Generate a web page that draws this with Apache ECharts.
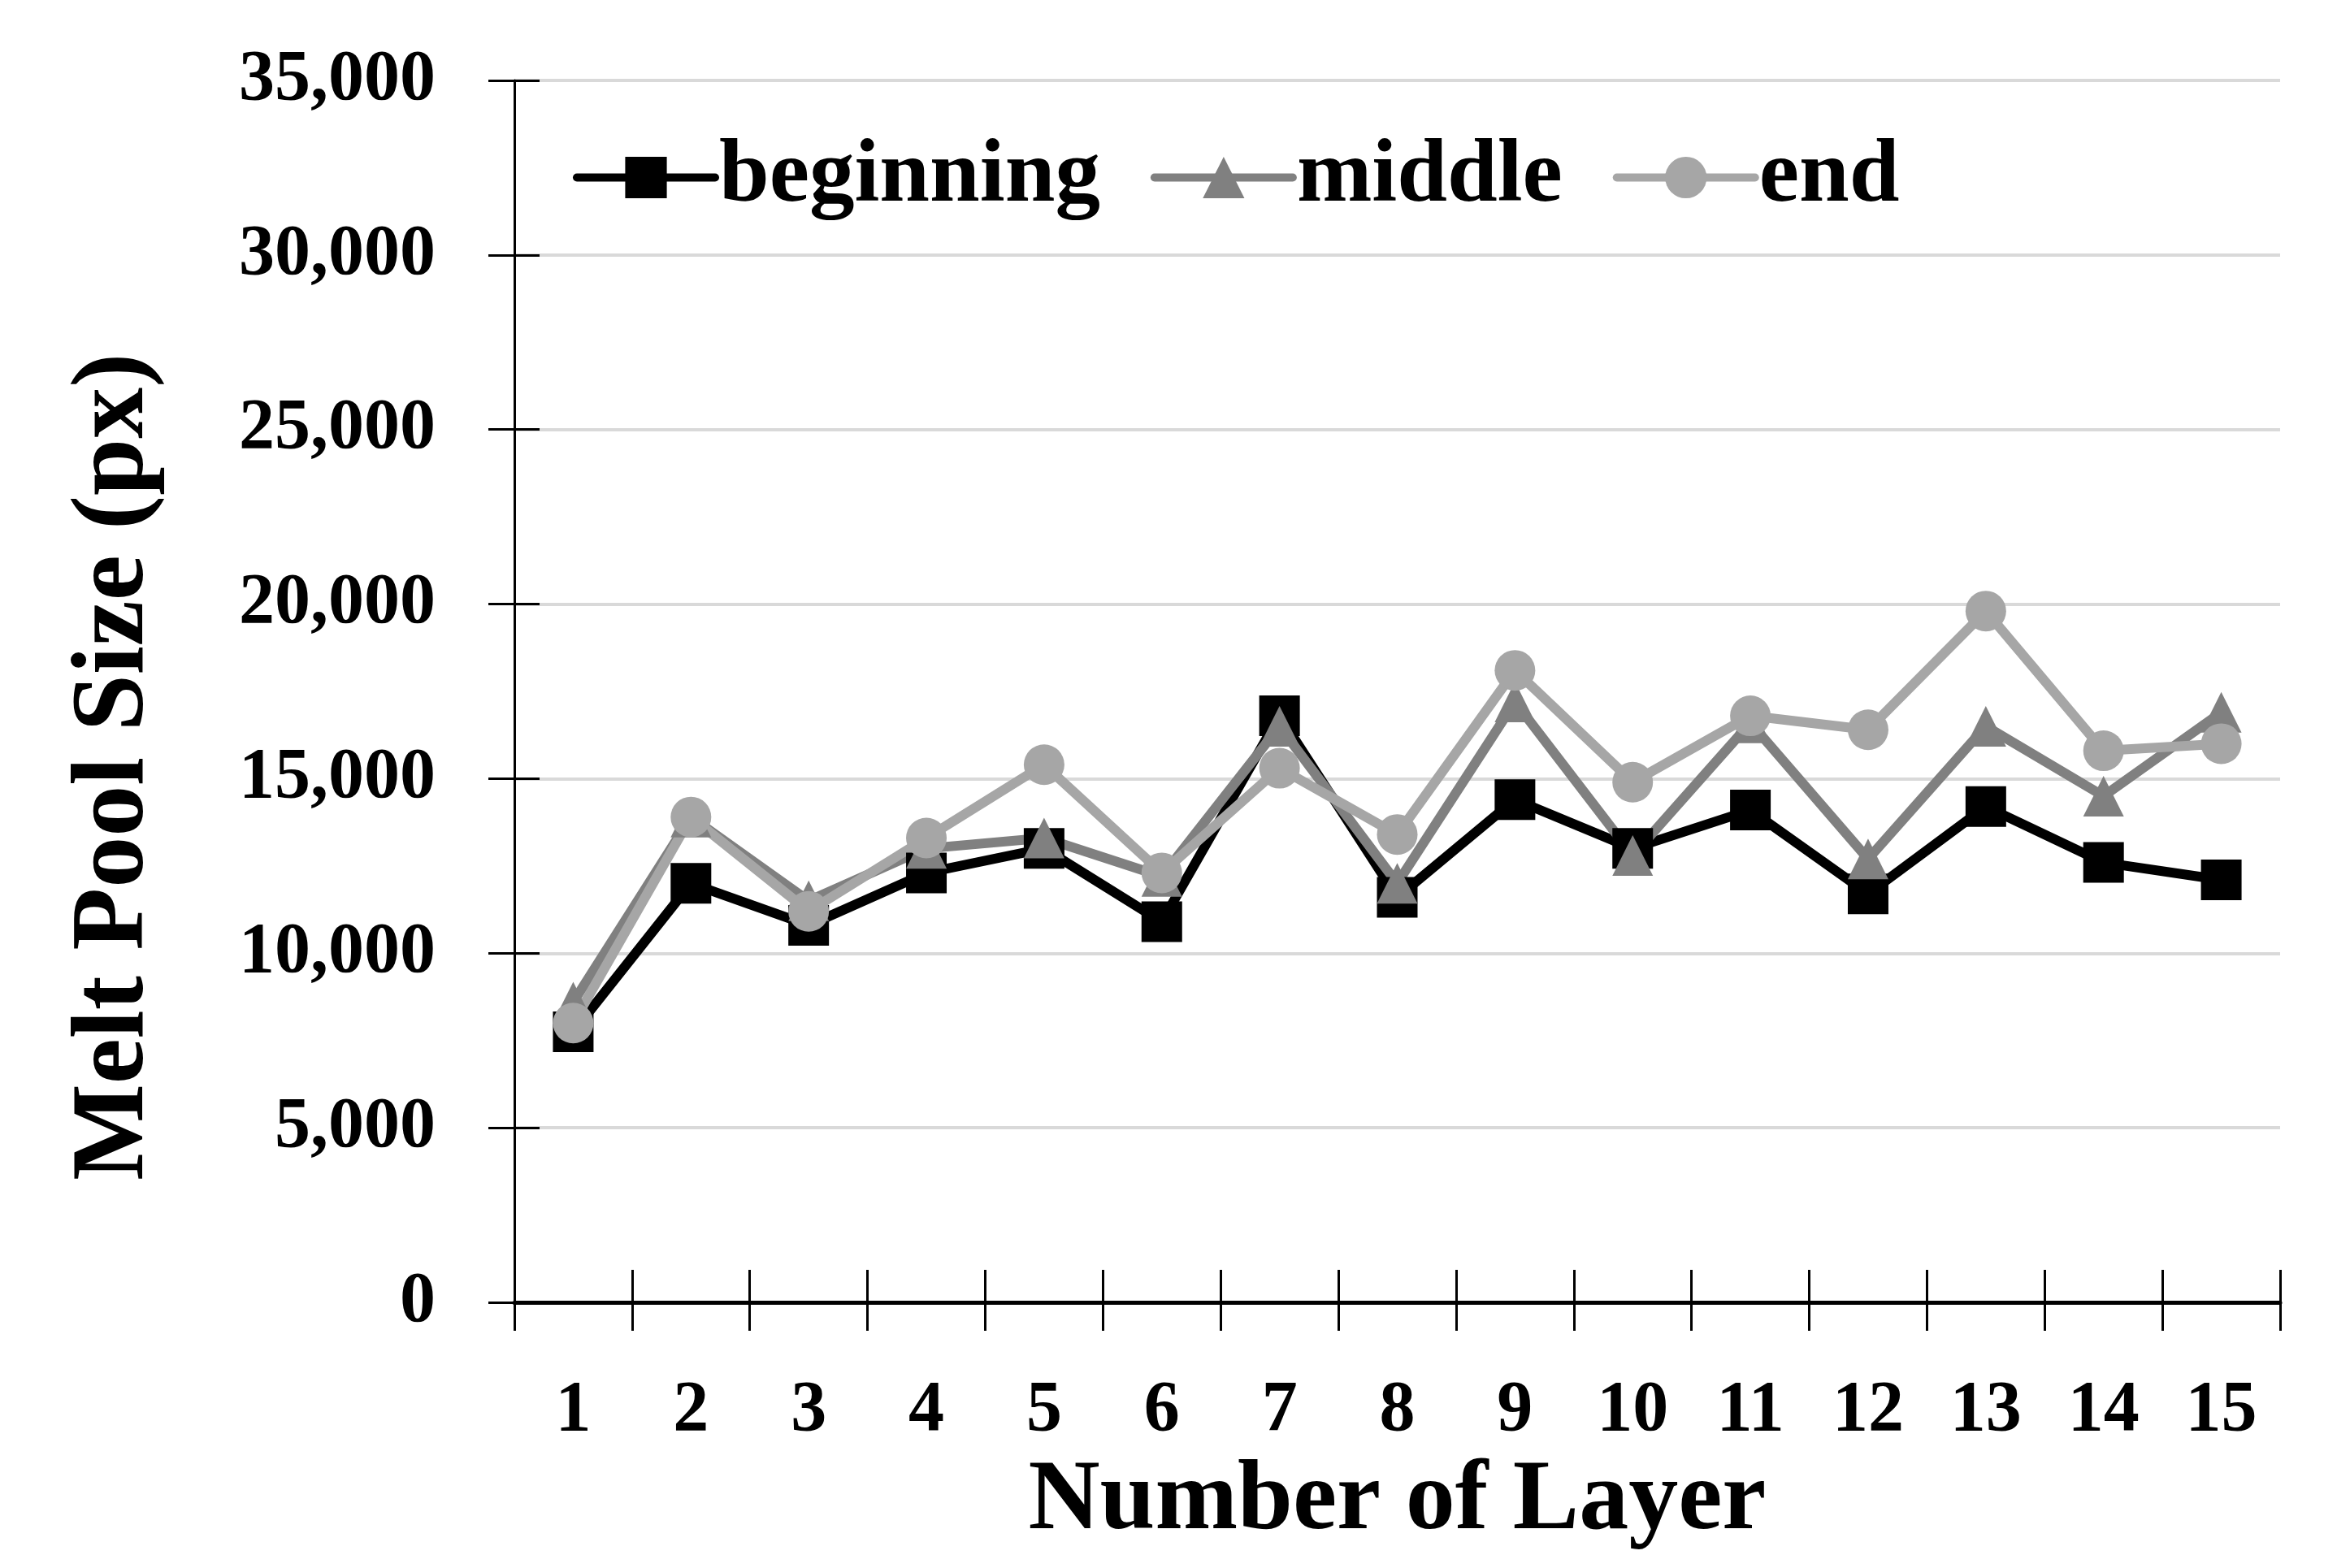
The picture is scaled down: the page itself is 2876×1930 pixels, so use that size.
<!DOCTYPE html>
<html><head><meta charset="utf-8">
<script src="https://cdn.jsdelivr.net/npm/echarts@6/dist/echarts.min.js"></script>
<style>html,body{margin:0;padding:0;background:#fff}#c{width:2876px;height:1930px}</style>
</head><body><div id="c"></div>
<script>
const categories = ['1','2','3','4','5','6','7','8','9','10','11','12','13','14','15'];
const beginning = [7750, 12000, 10800, 12300, 13000, 10900, 16800, 11600, 14400, 13000, 14100, 11700, 14200, 12600, 12100];
const middle    = [8600, 13900, 11500, 13000, 13300, 12200, 16500, 12000, 17200, 12800, 16600, 12700, 16500, 14500, 16900];
const end       = [8000, 13900, 11200, 13300, 15400, 12300, 15300, 13400, 18100, 14900, 16800, 16400, 19800, 15800, 16000];
const seriesNames = ['beginning', 'middle', 'end'];
const yMin = 0, yMax = 35000, yStep = 5000;

const FONT = 'Liberation Serif';
const chart = echarts.init(document.getElementById('c'), null, {renderer: 'canvas'});
const fmt = v => v.toLocaleString('en-US');
function lineSeries(name, data, color, symbol) {
  return {
    name, type: 'line', data, xAxisIndex: 0, yAxisIndex: 0,
    symbol, symbolSize: 50, showAllSymbol: true,
    lineStyle: {color, width: 12},
    itemStyle: {color},
    emphasis: {disabled: true},
    animation: false
  };
}
chart.setOption({
  backgroundColor: '#ffffff',
  animation: false,
  grid: {left: 633, right: 70, top: 99, bottom: 327},
  legend: {
    left: 700, top: 158,
    itemWidth: 170, itemHeight: 64, itemGap: 62,
    lineStyle: {width: 10, cap: 'round'},
    textStyle: {fontFamily: FONT, fontWeight: 'bold', fontSize: 111, color: '#000'},
    data: seriesNames
  },
  xAxis: [{
    type: 'category', data: categories, boundaryGap: true,
    axisLine: {lineStyle: {color: '#000', width: 5}},
    axisTick: {show: true, length: 35, lineStyle: {color: '#000', width: 3}},
    axisLabel: {margin: 90, fontFamily: FONT, fontWeight: 'bold', fontSize: 88, color: '#000'},
    splitLine: {show: false},
    name: 'Number of Layer', nameLocation: 'middle', nameGap: 185,
    nameTextStyle: {fontFamily: FONT, fontWeight: 'bold', fontSize: 122, color: '#000'}
  }, {
    type: 'category', data: categories, boundaryGap: true, position: 'bottom',
    axisLine: {show: false},
    axisTick: {show: true, inside: true, length: 40, lineStyle: {color: '#000', width: 3}},
    axisLabel: {show: false}, splitLine: {show: false}
  }],
  yAxis: [{
    type: 'value', min: yMin, max: yMax, interval: yStep,
    axisLine: {show: true, lineStyle: {color: '#000', width: 3}},
    axisTick: {show: true, length: 32, lineStyle: {color: '#000', width: 3}},
    axisLabel: {margin: 97, formatter: fmt, fontFamily: FONT, fontWeight: 'bold', fontSize: 88, color: '#000'},
    splitLine: {show: true, lineStyle: {color: '#d9d9d9', width: 4}},
    name: 'Melt Pool Size (px)', nameLocation: 'middle', nameGap: 428,
    nameTextStyle: {fontFamily: FONT, fontWeight: 'bold', fontSize: 126, color: '#000', padding: [0, 186, 0, 0]}
  }, {
    type: 'value', min: yMin, max: yMax, interval: yStep, position: 'left',
    axisLine: {show: false},
    axisTick: {show: true, inside: true, length: 31, lineStyle: {color: '#000', width: 3}},
    axisLabel: {show: false}, splitLine: {show: false}
  }],
  series: [
    lineSeries(seriesNames[0], beginning, '#000000', 'rect'),
    lineSeries(seriesNames[1], middle, '#808080', 'triangle'),
    lineSeries(seriesNames[2], end, '#a6a6a6', 'circle')
  ]
});
</script></body></html>
